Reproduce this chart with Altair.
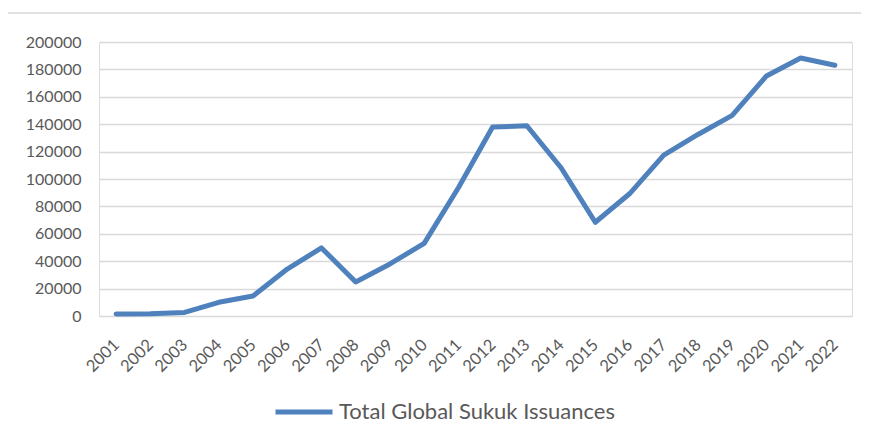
import altair as alt
import pandas as pd

years = [str(y) for y in range(2001, 2023)]
issuances = [1500, 1700, 2600, 10000, 14600, 34300, 49700, 24800, 38000, 53000,
             93600, 137900, 138900, 108200, 68400, 89200, 117400, 132500, 146400,
             175200, 188300, 183000]
series_name = "Total Global Sukuk Issuances"
y_ticks = list(range(0, 200001, 20000))

df = pd.DataFrame({"Year": years, "Value": issuances, "Series": [series_name] * len(years)})

FONT = "Lato"
GREY = "#595959"
GRID = "#D9D9D9"
BLUE = "#4F81BD"

W, H = 753, 274

frame = alt.Chart(pd.DataFrame({"k": [0]})).mark_rect(
    fill=None, stroke=GRID, strokeWidth=1.5
).encode(
    x=alt.value(-92), x2=alt.value(800), y=alt.value(-29), y2=alt.value(420)
)

line = alt.Chart(df).mark_line(strokeWidth=5, strokeCap="round", strokeJoin="round").encode(
    x=alt.X("Year:N", sort=years, title=None,
            scale=alt.Scale(paddingInner=0, paddingOuter=0),
            axis=alt.Axis(labelAngle=-45, labelAlign="right", labelBaseline="middle",
                          labelPadding=26, labelFont=FONT, labelFontSize=16.5,
                          labelColor=GREY, domain=False, ticks=False, grid=False)),
    y=alt.Y("Value:Q", title=None,
            scale=alt.Scale(domain=[0, 200000], nice=False),
            axis=alt.Axis(values=y_ticks, format="d", labelFont=FONT, labelFontSize=16,
                          labelColor=GREY, labelPadding=18, domain=False, ticks=False,
                          grid=True, gridColor=GRID, gridWidth=1.5)),
    color=alt.Color("Series:N", scale=alt.Scale(range=[BLUE]), title=None,
                    legend=alt.Legend(orient="none", legendX=174, legendY=339,
                                      symbolType="stroke", symbolSize=3249,
                                      symbolStrokeWidth=5, labelFont=FONT,
                                      labelFontSize=22, labelColor=GREY,
                                      labelOffset=4, labelLimit=500)),
)

chart = alt.layer(frame, line).properties(
    width=W, height=H,
    autosize=alt.AutoSizeParams(type="none"),
    padding={"left": 91, "top": 34, "right": 9, "bottom": 120},
).configure_view(stroke=None).configure(background="white")

chart.save("out.html", embed_options={"renderer": "svg", "actions": False})
